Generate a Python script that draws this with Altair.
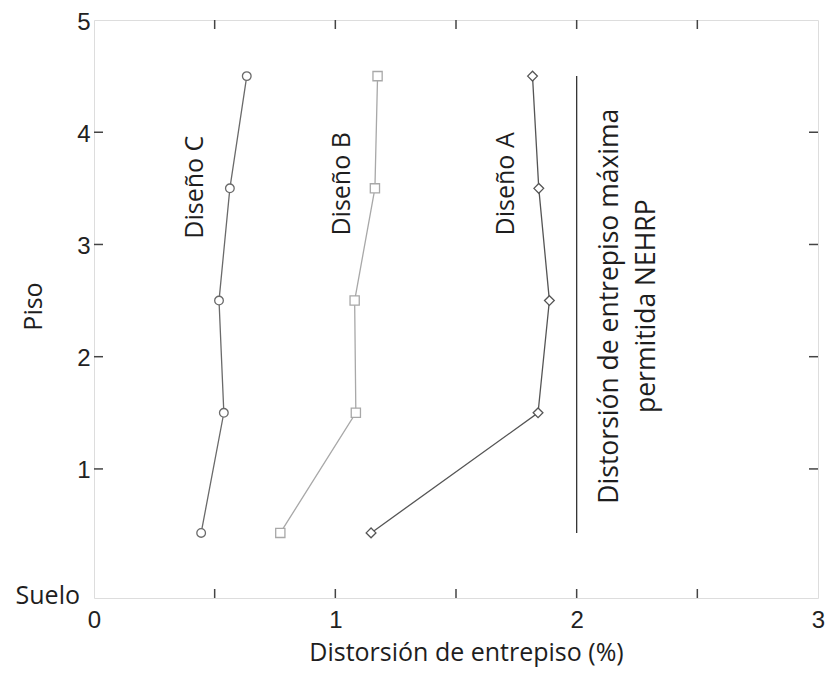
import altair as alt
import pandas as pd

# ---- data ----
pisos = [0.43, 1.5, 2.5, 3.5, 4.5]
diseno_a = [1.148, 1.84, 1.887, 1.843, 1.817]
diseno_b = [0.772, 1.085, 1.08, 1.164, 1.175]
diseno_c = [0.444, 0.538, 0.518, 0.563, 0.633]
series_names = ["Diseño A", "Diseño B", "Diseño C"]
series_colors = ["#555555", "#a8a8a8", "#6a6a6a"]
series_shapes = ["diamond", "square", "circle"]
series_sizes = [95, 75, 90]

nehrp_x = 2.0
nehrp_y = [0.43, 4.5]

design_labels = ["Diseño C", "Diseño B", "Diseño A"]
design_x = [0.419, 1.027, 1.706]
design_y = [3.51, 3.54, 3.54]

nehrp_labels = ["Distorsión de entrepiso máxima", "permitida NEHRP"]
nehrp_lx = [2.14, 2.29]
nehrp_ly = [2.45, 2.45]

ground_label = ["Suelo"]

x_labels = [0, 1, 2, 3]
x_minor = [0.5, 1, 1.5, 2, 2.5]
y_labels = [1, 2, 3, 4, 5]
y_minor = [1, 2, 3, 4]
x_domain = [0, 3]
y_domain = [-0.15, 5]

W, H = 724, 578
TXT_FONT = "Open Sans"
NUM_FONT = "Liberation Sans"
TXT_COLOR = "#1e1e1e"

rows = []
for name, vals in zip(series_names, [diseno_a, diseno_b, diseno_c]):
    for i, (xv, yv) in enumerate(zip(vals, pisos)):
        rows.append({"serie": name, "x": xv, "y": yv, "o": i})
df = pd.DataFrame(rows)

xs = alt.Scale(domain=x_domain, nice=False, zero=False)
ys = alt.Scale(domain=y_domain, nice=False, zero=False)
col = alt.Scale(domain=series_names, range=series_colors)
shp = alt.Scale(domain=series_names, range=series_shapes)

xaxis = alt.Axis(values=x_labels, format="d", title="Distorsión de entrepiso (%)",
                 tickSize=0, domain=False, grid=False, labelFlush=False,
                 labelFont=NUM_FONT, labelFontSize=24, labelColor="#222222",
                 labelPadding=10, titleFont=TXT_FONT, titleFontSize=25,
                 titleFontWeight="normal", titleColor=TXT_COLOR,
                 titleX=372, titleY=62, titleAlign="center", titleBaseline="alphabetic")
yaxis = alt.Axis(values=y_labels, format="d", title="Piso", tickSize=0, domain=False, grid=False,
                 labelOverlap=False, labelFlush=False,
                 labelFont=NUM_FONT, labelFontSize=24, labelColor="#222222",
                 labelPadding=4, labelOffset=2,
                 titleFont=TXT_FONT, titleFontSize=25, titleFontWeight="normal",
                 titleColor=TXT_COLOR, titleX=-61, titleY=286, titleAngle=270,
                 titleAlign="center", titleBaseline="middle")

base = alt.Chart(df)
lines = base.mark_line(strokeWidth=1.3).encode(
    x=alt.X("x:Q", scale=xs, axis=xaxis),
    y=alt.Y("y:Q", scale=ys, axis=yaxis),
    color=alt.Color("serie:N", scale=col, legend=None),
    order="o:Q",
)
points = base.mark_point(filled=True, fill="white", strokeWidth=1.3, opacity=1).encode(
    x=alt.X("x:Q", scale=xs),
    y=alt.Y("y:Q", scale=ys),
    stroke=alt.Stroke("serie:N", scale=col, legend=None),
    shape=alt.Shape("serie:N", scale=shp, legend=None),
    size=alt.Size("serie:N", scale=alt.Scale(domain=series_names, range=series_sizes), legend=None),
)

nehrp_df = pd.DataFrame({"x": [nehrp_x], "y": [nehrp_y[0]], "y2": [nehrp_y[1]]})
nehrp = alt.Chart(nehrp_df).mark_rule(color="#333333", strokeWidth=1.3).encode(
    x=alt.X("x:Q", scale=xs), y=alt.Y("y:Q", scale=ys), y2="y2:Q")

des_df = pd.DataFrame({"t": design_labels, "x": design_x, "y": design_y})
des = alt.Chart(des_df).mark_text(angle=270, align="center", baseline="middle",
                                  font=TXT_FONT, fontSize=25, color=TXT_COLOR).encode(
    x=alt.X("x:Q", scale=xs), y=alt.Y("y:Q", scale=ys), text="t:N")

neh_df = pd.DataFrame({"t": nehrp_labels, "x": nehrp_lx, "y": nehrp_ly})
neh = alt.Chart(neh_df).mark_text(angle=270, align="center", baseline="middle",
                                  font=TXT_FONT, fontSize=26.5, color=TXT_COLOR).encode(
    x=alt.X("x:Q", scale=xs), y=alt.Y("y:Q", scale=ys), text="t:N")

ground_df = pd.DataFrame({"t": ground_label, "y": [y_domain[0]]})
ground = alt.Chart(ground_df).mark_text(align="right", baseline="middle", dx=-14, dy=-2,
                                        font=TXT_FONT, fontSize=25, color=TXT_COLOR).encode(
    x=alt.value(0), y=alt.Y("y:Q", scale=ys), text="t:N")

# inward ticks (MATLAB style box)
tx = pd.DataFrame({"v": x_minor})
ty = pd.DataFrame({"v": y_minor})
tick_style = dict(color="#444444", strokeWidth=1.5)
tb = alt.Chart(tx).mark_rule(**tick_style).encode(
    x=alt.X("v:Q", scale=xs), y=alt.value(H), y2=alt.value(H - 9))
tt = alt.Chart(tx).mark_rule(**tick_style).encode(
    x=alt.X("v:Q", scale=xs), y=alt.value(0), y2=alt.value(9))
tl = alt.Chart(ty).mark_rule(**tick_style).encode(
    y=alt.Y("v:Q", scale=ys), x=alt.value(0), x2=alt.value(9))
tr = alt.Chart(ty).mark_rule(**tick_style).encode(
    y=alt.Y("v:Q", scale=ys), x=alt.value(W), x2=alt.value(W - 9))

chart = alt.layer(lines, nehrp, points, des, neh, ground, tb, tt, tl, tr).properties(
    width=W, height=H,
    autosize=alt.AutoSizeParams(type="none"),
    padding={"left": 86, "top": 12, "right": 7, "bottom": 69},
).configure_view(stroke="#444444", strokeWidth=2).configure(background="white")

chart.save("out.html", embed_options={"renderer": "svg", "actions": False})
